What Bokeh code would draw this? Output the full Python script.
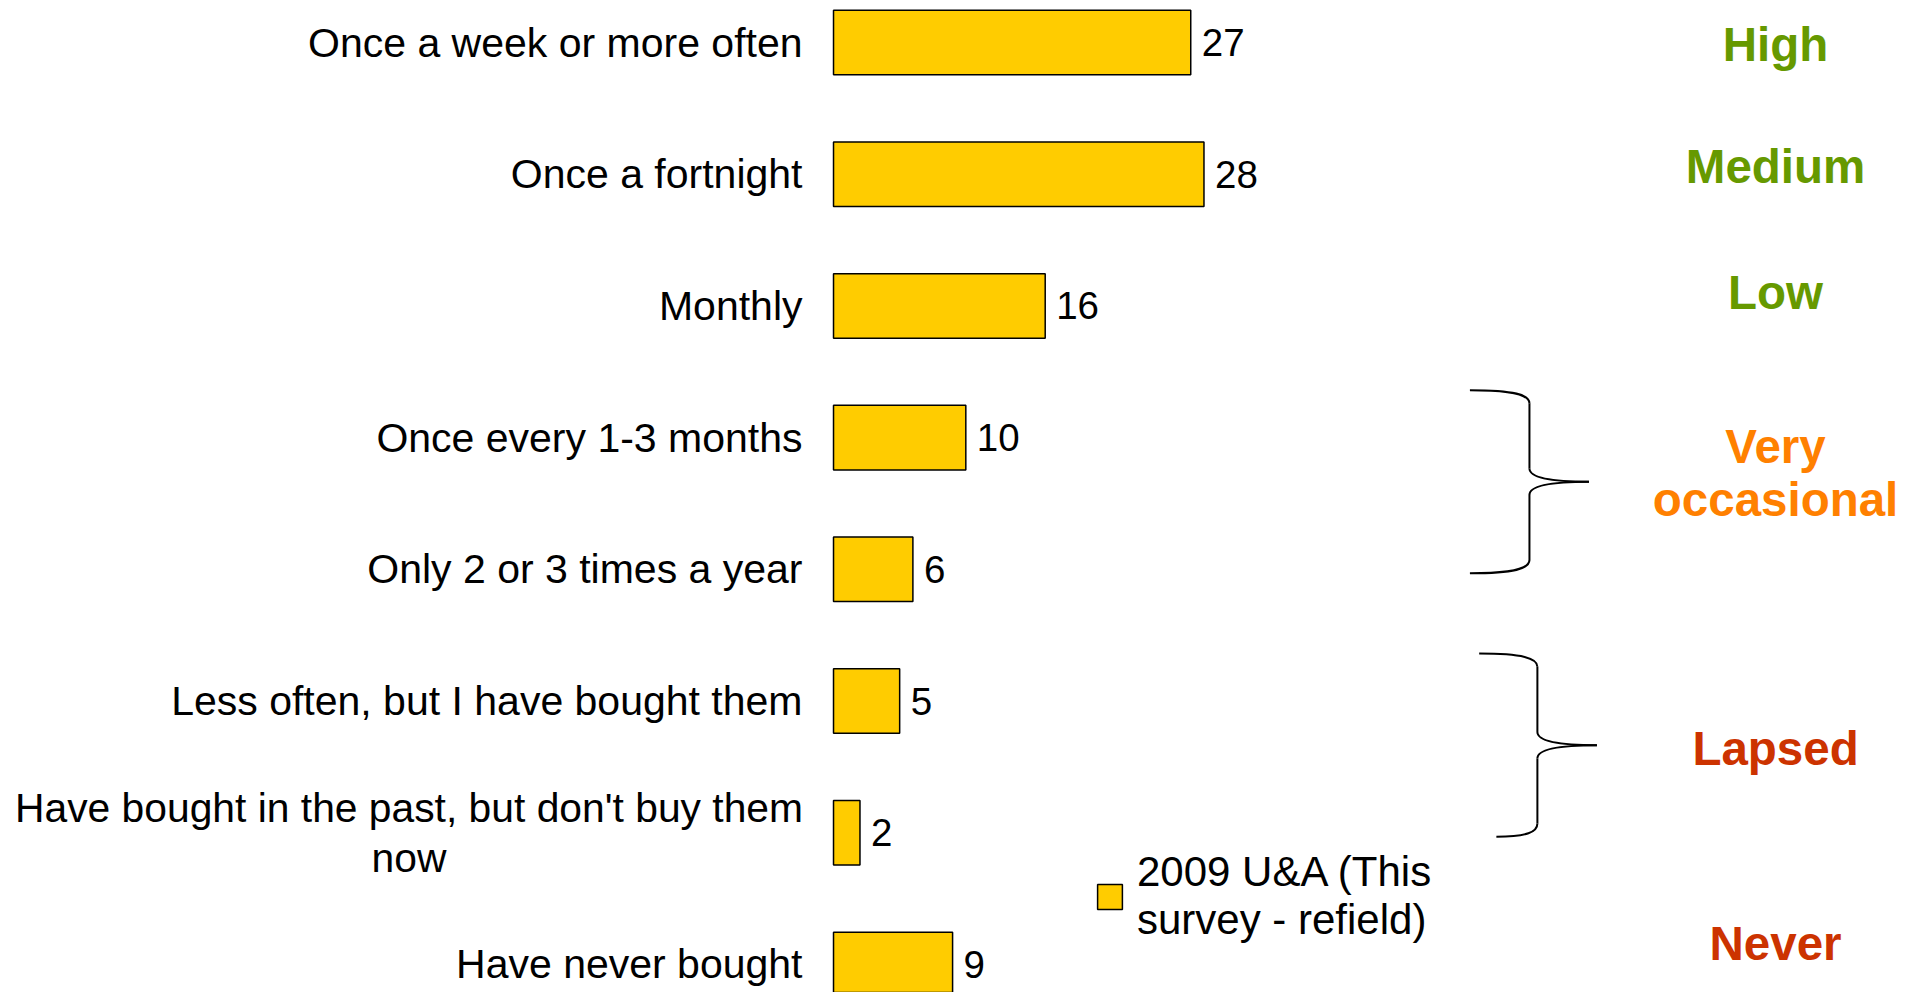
from bokeh.plotting import figure
from bokeh.models import Range1d, ColumnDataSource, Legend, LegendItem
from bokeh.embed import file_html
from bokeh.resources import INLINE
from bokeh.core.properties import value

# ---- data ----
categories = [
    "Once a week or more often",
    "Once a fortnight",
    "Monthly",
    "Once every 1-3 months",
    "Only 2 or 3 times a year",
    "Less often, but I have bought them",
    "Have bought in the past, but don't buy them\nnow",
    "Have never bought",
]
values = [27, 28, 16, 10, 6, 5, 2, 9]
series_name = "2009 U&A (This\nsurvey - refield)"

segment_labels = ["High", "Medium", "Low", "Very\noccasional", "Lapsed", "Never"]
segment_rows = [0.015, 0.94, 1.9, 3.27, 5.36, 6.84]
segment_colors = ["#669900", "#669900", "#669900", "#FF8000", "#CC3300", "#CC3300"]
brace_groups = [(3, 4), (5, 6)]

# ---- style ----
FONT = "Liberation Sans"
BAR_COLOR = "#FFCC00"
SEG_X = 71.2
BRACE_X = [  # (top-left, bottom-left, stem, tip) in value units
    (48.1, 48.1, 52.6, 57.1),
    (48.8, 50.1, 53.2, 57.7),
]
LABEL_GAP = 31

idx = list(range(len(categories)))
src = ColumnDataSource(dict(idx=idx, value=values, vlabel=[str(v) for v in values]))

p = figure(width=1910, height=992, output_backend="svg", toolbar_location=None,
           x_range=Range1d(-62.96, 81.4), y_range=Range1d(7.213, -0.319),
           x_axis_type=None, y_axis_type=None, min_border_left=0, min_border_right=0,
           min_border_top=0, min_border_bottom=0, outline_line_color=None)

bars = p.hbar(y="idx", left=0, right="value", height=0.49, source=src,
              fill_color=BAR_COLOR, line_color="black", line_width=1.5)

p.text(x="value", y="idx", text="vlabel", source=src, x_offset=11,
       text_baseline="middle", text_align="left",
       text_font=value(FONT), text_font_size="38.5px", text_color="black")

# category labels (single-line right aligned, wrapped one centred)
single = [(i, c) for i, c in enumerate(categories) if "\n" not in c]
multi = [(i, c) for i, c in enumerate(categories) if "\n" in c]
p.text(x=[0] * len(single), y=[i for i, _ in single], text=[c for _, c in single],
       x_offset=-LABEL_GAP, text_align="right", text_baseline="middle",
       text_font=value(FONT), text_font_size="41px", text_color="black")
p.text(x=[0] * len(multi), y=[i for i, _ in multi], text=[c for _, c in multi],
       x_offset=-(LABEL_GAP + 393.5), text_align="center", text_baseline="middle",
       text_font=value(FONT), text_font_size="40.8px", text_line_height=1.09,
       text_color="black")

# segment labels
seg_src = ColumnDataSource(dict(x=[SEG_X] * len(segment_labels), y=segment_rows,
                                t=segment_labels, c=segment_colors))
p.text(x="x", y="y", text="t", text_color="c", source=seg_src,
       text_align="center", text_baseline="middle", text_font=value(FONT),
       text_font_style="bold", text_font_size="47.5px", text_line_height=1.0)

# braces
bz = dict(x0=[], y0=[], x1=[], y1=[], cx0=[], cy0=[], cx1=[], cy1=[])
sg = dict(x0=[], y0=[], x1=[], y1=[])
r = 0.1
def add_bz(a, b, c0, c1):
    bz["x0"].append(a[0]); bz["y0"].append(a[1])
    bz["x1"].append(b[0]); bz["y1"].append(b[1])
    bz["cx0"].append(c0[0]); bz["cy0"].append(c0[1])
    bz["cx1"].append(c1[0]); bz["cy1"].append(c1[1])
for (g0, g1), (xlt, xlb, xs, xp) in zip(brace_groups, BRACE_X):
    yt = g0 - 0.36
    yb = g1 + 0.03
    ym = (yt + yb) / 2
    add_bz((xlt, yt), (xs, yt + r), (xlt + 0.75 * (xs - xlt), yt), (xs, yt + 0.35 * r))
    add_bz((xs, ym - r), (xp, ym), (xs, ym - 0.35 * r), (xs + 0.3 * (xp - xs), ym))
    add_bz((xs, ym + r), (xp, ym), (xs, ym + 0.35 * r), (xs + 0.3 * (xp - xs), ym))
    add_bz((xlb, yb), (xs, yb - r), (xlb + 0.75 * (xs - xlb), yb), (xs, yb - 0.35 * r))
    sg["x0"] += [xs, xs]; sg["x1"] += [xs, xs]
    sg["y0"] += [yt + r, ym + r]; sg["y1"] += [ym - r, yb - r]
p.bezier(source=ColumnDataSource(bz), x0="x0", y0="y0", x1="x1", y1="y1",
         cx0="cx0", cy0="cy0", cx1="cx1", cy1="cy1", line_color="black", line_width=2)
p.segment(source=ColumnDataSource(sg), x0="x0", y0="y0", x1="x1", y1="y1",
          line_color="black", line_width=2)

legend = Legend(items=[LegendItem(label=series_name, renderers=[bars])],
                location=(1094, 48), orientation="vertical")
legend.border_line_color = None
legend.background_fill_alpha = 0
legend.padding = 0
legend.margin = 0
legend.glyph_width = 31
legend.glyph_height = 31
legend.label_standoff = 12
legend.label_text_font = FONT
legend.label_text_font_size = "42px"
legend.label_text_color = "black"
p.add_layout(legend)

open("out.html", "w").write(file_html(p, INLINE))
